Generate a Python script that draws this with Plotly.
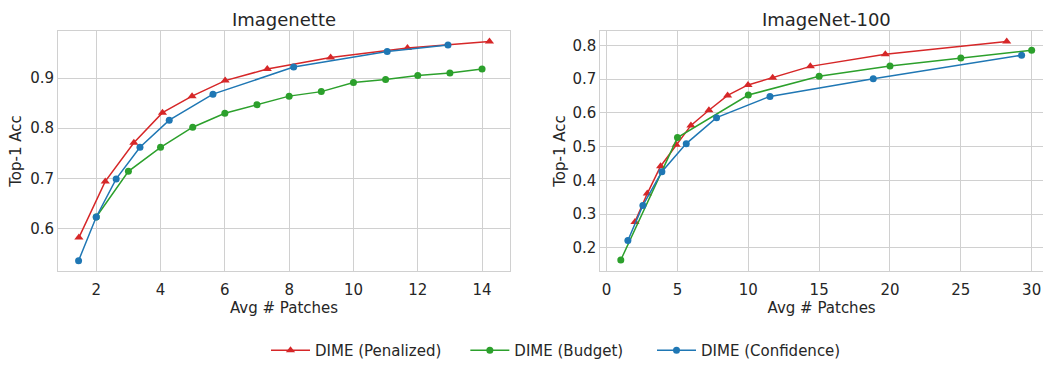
import plotly.graph_objects as go

# Imagenette
in_pen_x = [1.46, 2.28, 3.17, 4.06, 4.98, 6.01, 7.32, 9.29, 11.68, 14.23]
in_pen_y = [0.582, 0.694, 0.771, 0.831, 0.864, 0.895, 0.918, 0.941, 0.960, 0.973]
in_bud_x = [2, 3, 4, 5, 6, 7, 8, 9, 10, 11, 12, 13, 14]
in_bud_y = [0.623, 0.714, 0.762, 0.802, 0.830, 0.847, 0.864, 0.873, 0.891, 0.897, 0.905, 0.910, 0.918]
in_con_x = [1.45, 2.0, 2.62, 3.36, 4.27, 5.63, 8.14, 11.05, 12.94]
in_con_y = [0.536, 0.623, 0.699, 0.762, 0.816, 0.868, 0.922, 0.953, 0.966]

# ImageNet-100
i100_pen_x = [2.0, 2.87, 3.81, 4.91, 5.95, 7.22, 8.54, 9.98, 11.72, 14.38, 19.67, 28.24]
i100_pen_y = [0.277, 0.361, 0.442, 0.506, 0.563, 0.608, 0.652, 0.683, 0.704, 0.738, 0.774, 0.812]
i100_bud_x = [1, 5, 10, 15, 20, 25, 30]
i100_bud_y = [0.164, 0.527, 0.653, 0.709, 0.739, 0.763, 0.786]
i100_con_x = [1.5, 2.56, 3.9, 5.62, 7.76, 11.53, 18.82, 29.29]
i100_con_y = [0.222, 0.326, 0.426, 0.509, 0.586, 0.649, 0.701, 0.771]

titles = ["Imagenette", "ImageNet-100"]
names = ["DIME (Penalized)", "DIME (Budget)", "DIME (Confidence)"]
colors = ["#d62728", "#2ca02c", "#1f77b4"]
symbols = ["triangle-up", "circle", "circle"]
legend_pad = ["\u00a0" * 4, "\u00a0" * 5, ""]

fig = go.Figure()
sets = [
    ("x", "y", [(in_pen_x, in_pen_y), (in_bud_x, in_bud_y), (in_con_x, in_con_y)], True),
    ("x2", "y2", [(i100_pen_x, i100_pen_y), (i100_bud_x, i100_bud_y), (i100_con_x, i100_con_y)], False),
]
for xa, ya, series, show in sets:
    for (xs, ys), n, c, s, p in zip(series, names, colors, symbols, legend_pad):
        fig.add_trace(go.Scatter(
            x=xs, y=ys, mode="lines+markers", name=n + p, xaxis=xa, yaxis=ya,
            showlegend=show, line=dict(color=c, width=1.5),
            marker=dict(color=c, symbol=s, size=7 if s == "circle" else 8),
        ))

font_c = "#262626"
grid_c = "#d0d0d0"
common_ax = dict(showgrid=True, gridcolor=grid_c, gridwidth=1, zeroline=False,
                 showline=True, linecolor=grid_c, linewidth=1,
                 tickfont=dict(size=15, color=font_c),
                 title_font=dict(size=15, color=font_c))
x_ticks = dict(ticks="outside", ticklen=5, tickcolor="rgba(0,0,0,0)")
y_ticks = dict(ticks="")

fig.update_layout(
    width=1043, height=367,
    margin=dict(l=0, r=0, t=0, b=0),
    paper_bgcolor="white", plot_bgcolor="white",
    font=dict(family="DejaVu Sans", color=font_c),
    xaxis=dict(domain=[0.0556, 0.489], range=[0.81, 14.87], dtick=2, tick0=0,
               mirror=True, title=dict(text="Avg # Patches", standoff=4), anchor="y",
               **x_ticks, **common_ax),
    yaxis=dict(domain=[0.2425, 0.9136], range=[0.515, 0.994], dtick=0.1, tick0=0,
               tickformat=".1f", mirror=True, title=dict(text="Top-1 Acc", standoff=4), anchor="x",
               **y_ticks, **common_ax),
    xaxis2=dict(domain=[0.5755, 1.0], range=[-0.45, 30.8], dtick=5, tick0=0,
                mirror=True, title=dict(text="Avg # Patches", standoff=4), anchor="y2",
                **x_ticks, **common_ax),
    yaxis2=dict(domain=[0.2425, 0.9136], range=[0.131, 0.843], dtick=0.1, tick0=0,
                tickformat=".1f", mirror=False, title=dict(text="Top-1 Acc", standoff=3), anchor="x2",
                **y_ticks, **common_ax),
    legend=dict(orientation="h", x=266 / 1043, xanchor="left", y=0.02, yanchor="middle",
                font=dict(size=15, color=font_c), itemwidth=39, bgcolor="rgba(0,0,0,0)"),
    annotations=[
        dict(text=titles[0], x=0.2723, y=1 - 20 / 367, xref="paper", yref="paper",
             showarrow=False, font=dict(size=18, color=font_c), xanchor="center", yanchor="middle"),
        dict(text=titles[1], x=(520 + 920 / 3) / 1043, y=1 - 20 / 367, xref="paper", yref="paper",
             showarrow=False, font=dict(size=18, color=font_c), xanchor="center", yanchor="middle"),
    ],
)

fig.write_html("out.html")
